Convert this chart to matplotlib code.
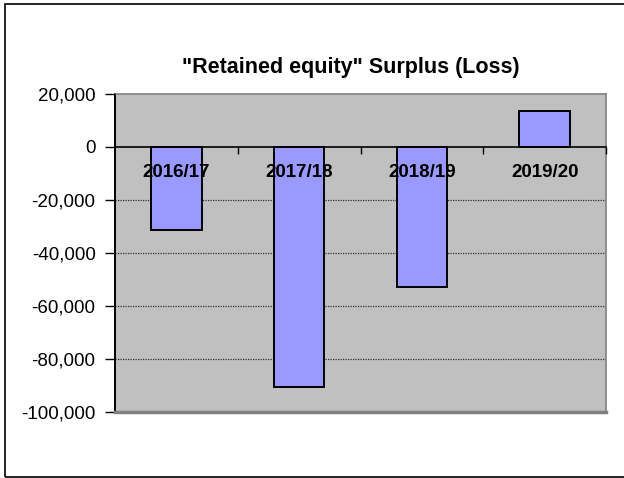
import matplotlib
matplotlib.use('Agg')
import matplotlib.pyplot as plt
from matplotlib.patches import Rectangle
from matplotlib.ticker import FuncFormatter

seasons = ["2016/17", "2017/18", "2018/19", "2019/20"]
surplus = [-31500, -90700, -52800, 13300]
yticks = [20000, 0, -20000, -40000, -60000, -80000, -100000]

plt.rcParams['font.family'] = ['Liberation Sans', 'DejaVu Sans']

fig = plt.figure(figsize=(6.24, 4.78), dpi=100)
W, H = 624, 478
ax = fig.add_axes([115/W, 1-412/H, (606-115)/W, (412-93.7)/H])
ax.set_facecolor('#C0C0C0')
ax.set_axisbelow(False)

x = list(range(len(seasons)))
ax.bar(x, surplus, width=0.41, color='#9999FF', edgecolor='black', linewidth=1.4, zorder=2)

# category axis sits on zero (set before ticks, it resets them)
ax.spines['bottom'].set_position(('data', 0))
ax.spines['bottom'].set_color('black')
ax.spines['bottom'].set_linewidth(1.2)
ax.spines['left'].set_color('black')
ax.spines['left'].set_linewidth(1.4)
for s in ['top', 'right']:
    ax.spines[s].set_color('#808080')
    ax.spines[s].set_linewidth(1.2)
ax.axhline(-100000, color='#808080', linewidth=2.5, clip_on=False, zorder=4)

ax.set_xlim(-0.5, len(seasons)-0.5)
ax.set_ylim(-100000, 20000)
ax.set_yticks(yticks)
ax.yaxis.set_major_formatter(FuncFormatter(lambda v, p: f"{v:,.0f}"))
ax.tick_params(axis='y', direction='out', length=7, width=1, pad=7, labelsize=13.5)

ax.set_xticks(x)
ax.set_xticklabels(seasons, fontweight='bold', fontsize=13.5)
ax.set_xticks([i + 0.5 for i in x], minor=True)
ax.tick_params(axis='x', which='major', length=0, pad=12.5)
ax.tick_params(axis='x', which='minor', direction='out', length=5, width=1)

# dotted gridlines behind the bars
for v in yticks:
    if v not in (20000, 0, -100000):
        ax.axhline(v, color='#303030', linestyle=(0, (1, 1)), linewidth=0.9, zorder=1)

fig.text(350.5/W, 1-67.6/H, '"Retained equity" Surplus (Loss)', ha='center', va='center',
         fontsize=15.5, fontweight='bold')

fig.patches.append(Rectangle((5/W, 1.5/H), 1.2, (474.5-1.5)/H, transform=fig.transFigure,
                             fill=False, edgecolor='black', linewidth=1.2))

fig.savefig('out.png', dpi=100)
